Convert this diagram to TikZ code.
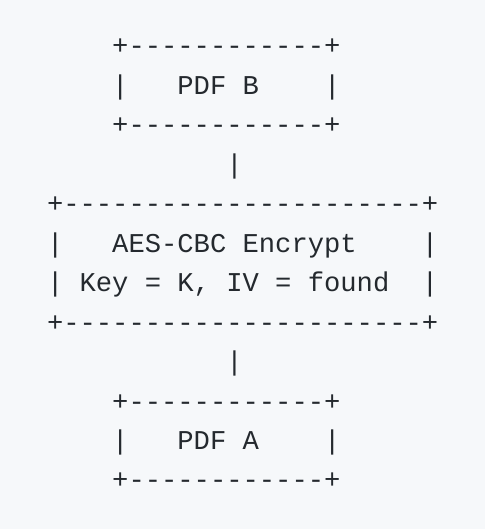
\documentclass[tikz,border=0pt]{standalone}
\usepackage{fontspec}
\setmonofont{Liberation Mono}
\definecolor{bgc}{HTML}{F6F8FA}
\definecolor{txc}{HTML}{24292E}
\begin{document}
\begin{tikzpicture}[x=1pt,y=-1pt,
  ascii/.style={anchor=base west,inner sep=0pt,outer sep=0pt,text=txc,
    font=\fontsize{27.17}{39.45}\selectfont\ttfamily}]
\fill[bgc] (0,0) rectangle (485,529);
\useasboundingbox (0,0) rectangle (485,529);
\def\cw{16.3}
\def\lh{39.45}
\def\by{55}
\node[ascii] (l1)  at (47+4*\cw, \by+0*\lh) {+------------+};
\node[ascii] (l2)  at (47+4*\cw, \by+1*\lh) {|\ \ \ PDF B\ \ \ \ |};
\node[ascii] (l3)  at (47+4*\cw, \by+2*\lh) {+------------+};
\node[ascii] (l4)  at (47+11*\cw,\by+3*\lh) {|};
\node[ascii] (l5)  at (47,       \by+4*\lh) {+----------------------+};
\node[ascii] (l6)  at (47,       \by+5*\lh) {|\ \ \ AES-CBC Encrypt\ \ \ \ |};
\node[ascii] (l7)  at (47,       \by+6*\lh) {|\ Key = K, IV = found\ \ |};
\node[ascii] (l8)  at (47,       \by+7*\lh) {+----------------------+};
\node[ascii] (l9)  at (47+11*\cw,\by+8*\lh) {|};
\node[ascii] (l10) at (47+4*\cw, \by+9*\lh) {+------------+};
\node[ascii] (l11) at (47+4*\cw, \by+10*\lh) {|\ \ \ PDF A\ \ \ \ |};
\node[ascii] (l12) at (47+4*\cw, \by+11*\lh) {+------------+};
\end{tikzpicture}
\end{document}
